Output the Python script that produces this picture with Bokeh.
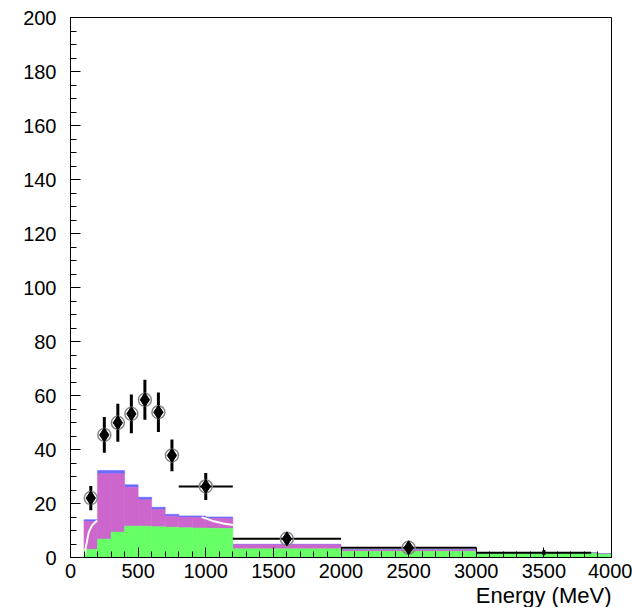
import numpy as np
from bokeh.plotting import figure
from bokeh.models import Range1d, SingleIntervalTicker, Title, ColumnDataSource
from bokeh.embed import file_html
from bokeh.resources import INLINE

# ---- histogram (stacked) ----
bin_lo = [100, 200, 300, 400, 500, 600, 700, 800, 900, 1000, 1100, 1200, 2000, 3000, 3900]
bin_hi = [200, 300, 400, 500, 600, 700, 800, 900, 1000, 1100, 1200, 2000, 3000, 3900, 4000]
green_top = [3.0, 6.8, 9.4, 11.6, 11.6, 11.4, 11.2, 11.0, 10.9, 10.8, 10.7, 3.2, 2.3, 1.6, 1.2]
magenta_top = [13.3, 31.0, 31.0, 26.0, 21.4, 17.8, 15.3, 14.8, 14.8, 14.4, 14.4, 4.7, 2.8, 1.7, 1.3]
blue_top = [14.0, 32.2, 32.2, 26.9, 22.3, 18.6, 16.0, 15.4, 15.4, 15.0, 15.0, 4.9, 2.9, 1.8, 1.4]

# ---- white model curve (visible pieces only) ----
curve_e = [108, 111, 135, 160, 197, float("nan"), 970, 1000, 1060, 1130, 1200]
curve_y = [1.0, 3.2, 9.4, 11.9, 13.7, float("nan"), 14.9, 14.5, 13.4, 12.6, 12.0]

# ---- data points ----
pt_e = [150, 250, 350, 450, 550, 650, 750, 1000, 1600, 2500, 3500]
pt_y = [22.0, 45.4, 49.9, 53.2, 58.4, 53.8, 37.8, 26.3, 6.9, 3.6, 1.8]
pt_err = [4.5, 6.6, 7.0, 7.2, 7.4, 7.3, 5.9, 5.0, 1.0, 0.6, 1.0]
pt_lo = [150, 250, 350, 450, 550, 650, 750, 800, 1200, 2000, 3000]
pt_hi = [150, 250, 350, 450, 550, 650, 750, 1200, 2000, 3000, 3850]

x_axis_title = "Energy (MeV)"

p = figure(
    output_backend="svg", toolbar_location=None,
    frame_width=541, frame_height=540,
    min_border_left=70, min_border_right=21, min_border_top=17, min_border_bottom=0,
    x_range=Range1d(0, 4000), y_range=Range1d(0, 200),
    background_fill_color="white", border_fill_color="white",
)
p.outline_line_color = "black"
p.outline_line_width = 1
p.xgrid.visible = False
p.ygrid.visible = False

src = ColumnDataSource(dict(lo=bin_lo, hi=bin_hi, g=green_top, m=magenta_top, b=blue_top,
                            z=[0] * len(bin_lo)))
p.quad(left="lo", right="hi", bottom="m", top="b", source=src, fill_color="#6a6aff",
       line_color="#6a6aff", line_width=0.6)
p.quad(left="lo", right="hi", bottom="g", top="m", source=src, fill_color="#cc66cc",
       line_color="#cc66cc", line_width=0.6)
p.quad(left="lo", right="hi", bottom="z", top="g", source=src, fill_color="#66ff66",
       line_color="#66ff66", line_width=0.6)

p.line(curve_e, curve_y, line_color="white", line_width=2)

# error bars
ys = np.array(pt_y)
errs = np.array(pt_err)
p.segment(x0=pt_e, y0=list(ys - errs), x1=pt_e, y1=list(ys + errs), line_color="black", line_width=3)
p.segment(x0=pt_lo, y0=pt_y, x1=pt_hi, y1=pt_y, line_color="black", line_width=2)

n_big = 10
p.scatter(pt_e[:n_big], pt_y[:n_big], marker="circle", size=13, fill_color=None,
          line_color="#888888", line_width=1.5)
p.scatter(pt_e[:n_big], pt_y[:n_big], marker="diamond", size=14, fill_color="black", line_color="black")

for ax in (p.xaxis[0], p.yaxis[0]):
    ax.axis_line_color = "black"
    ax.major_tick_line_color = "black"
    ax.minor_tick_line_color = "black"
    ax.major_tick_in = 10
    ax.major_tick_out = 0
    ax.minor_tick_in = 6
    ax.minor_tick_out = 0
    ax.major_label_text_font = "Liberation Sans"
    ax.major_label_text_font_size = "20px"
    ax.major_label_text_color = "black"

p.xaxis[0].ticker = SingleIntervalTicker(interval=500, num_minor_ticks=5)
p.yaxis[0].ticker = SingleIntervalTicker(interval=20, num_minor_ticks=4)
p.xaxis[0].major_label_standoff = 6
p.yaxis[0].major_label_standoff = 14

t = Title(text=x_axis_title, align="right", text_font="Liberation Sans",
          text_font_size="22px", text_font_style="normal", text_color="black",
          standoff=0, offset=0)
p.add_layout(t, "below")

open("out.html", "w").write(file_html(p, INLINE))
